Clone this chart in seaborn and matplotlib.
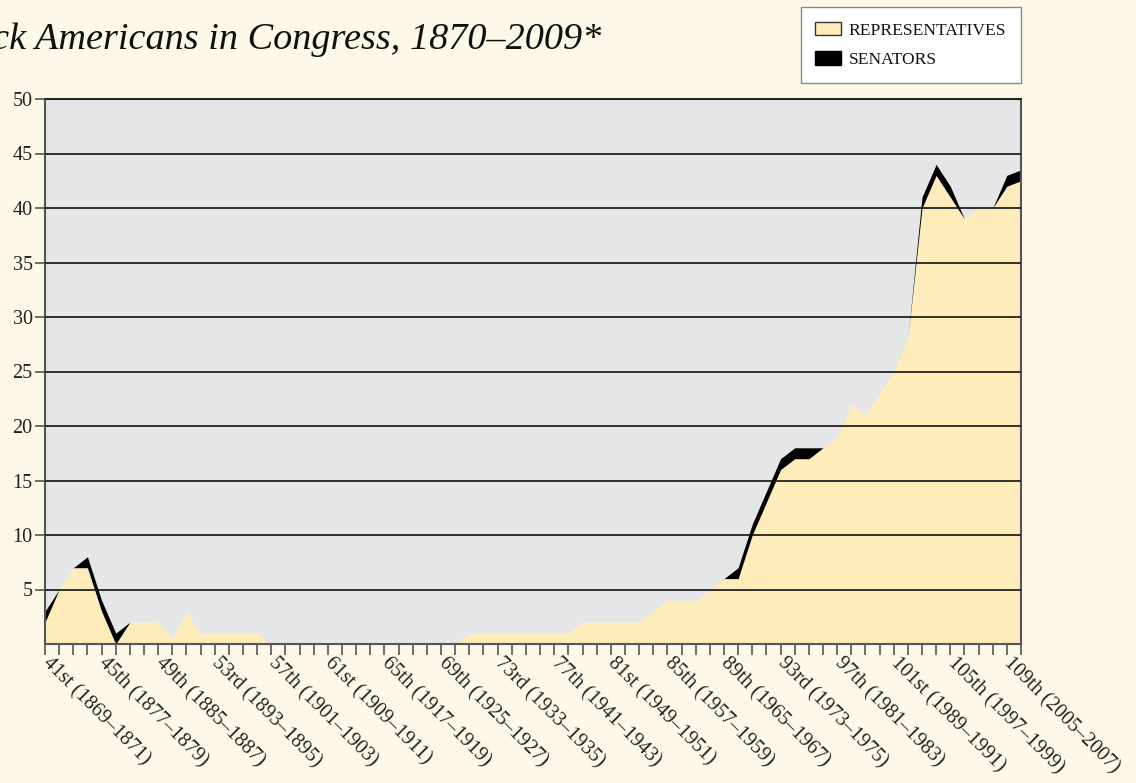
import numpy as np
import pandas as pd
import matplotlib
matplotlib.use("Agg")
import matplotlib.pyplot as plt
import seaborn as sns
from matplotlib.patches import Patch

# --- data ---
congresses = list(range(41, 111))
representatives = [2, 5, 7, 7, 3, 0, 2, 2, 2, 0.5, 3, 1, 1, 1, 1, 1,
                   0, 0, 0, 0, 0, 0, 0, 0, 0, 0, 0, 0, 0, 0,
                   1, 1, 1, 1, 1, 1, 1, 1,
                   2, 2, 2, 2, 2,
                   3, 4, 4, 4, 5, 6, 6, 10, 13, 16, 17, 17, 18, 19, 22, 21,
                   23, 25, 28, 40, 43, 41, 39, 40, 40, 42, 42.5]
senators = [1, 0, 0, 1, 1, 1, 0, 0, 0, 0, 0, 0, 0, 0, 0, 0,
            0, 0, 0, 0, 0, 0, 0, 0, 0, 0, 0, 0, 0, 0,
            0, 0, 0, 0, 0, 0, 0, 0,
            0, 0, 0, 0, 0,
            0, 0, 0, 0, 0, 0, 1, 1, 1, 1, 1, 1, 0, 0, 0, 0,
            0, 0, 0, 1, 1, 1, 0, 0, 0, 1, 1]
label_congresses = list(range(41, 111, 4))
tick_labels = ["41st (1869–1871)", "45th (1877–1879)", "49th (1885–1887)",
               "53rd (1893–1895)", "57th (1901–1903)", "61st (1909–1911)",
               "65th (1917–1919)", "69th (1925–1927)", "73rd (1933–1935)",
               "77th (1941–1943)", "81st (1949–1951)", "85th (1957–1959)",
               "89th (1965–1967)", "93rd (1973–1975)", "97th (1981–1983)",
               "101st (1989–1991)", "105th (1997–1999)", "109th (2005–2007)"]
y_ticks = [5, 10, 15, 20, 25, 30, 35, 40, 45, 50]

df = pd.DataFrame({"Congress": congresses,
                   "Representatives": representatives,
                   "Senators": senators})

# --- style ---
sns.set_theme(style="white")
plt.rcParams["font.family"] = ["Liberation Serif", "DejaVu Serif"]

bg = "#FDF8E7"
panel = "#E5E6E8"
yellow = "#FFECBB"
axis_gray = "#555555"

fig = plt.figure(figsize=(11.36, 7.83), dpi=100, facecolor=bg)
ax = fig.add_axes([45 / 1136, 1 - 644 / 783, 976 / 1136, 545 / 783])
ax.set_facecolor(panel)

ax.stackplot(df["Congress"], df["Representatives"], df["Senators"],
             colors=[yellow, "black"], linewidth=0)

ax.set_xlim(41, 110)
ax.set_ylim(0, 50)

# gridlines drawn over the areas
ax.set_axisbelow(False)
ax.yaxis.grid(True, color="#111111", linewidth=1.2)
ax.xaxis.grid(False)

ax.set_yticks(y_ticks)
ax.set_yticklabels([str(v) for v in y_ticks], fontsize=14.5, color="#222222")
ax.tick_params(axis="y", direction="out", length=7, width=1.2,
               color=axis_gray, pad=2, left=True)

ax.set_xticks(congresses, minor=True)
ax.set_xticks(label_congresses)
ax.set_xticklabels(tick_labels, fontsize=14.6, color="#222222",
                   rotation=-45, ha="left", va="center", rotation_mode="anchor")
ax.tick_params(axis="x", which="both", direction="out", length=8, width=1.2,
               color=axis_gray, bottom=True, pad=4)

for side in ["left", "bottom", "right", "top"]:
    ax.spines[side].set_visible(True)
    ax.spines[side].set_color(axis_gray)
    ax.spines[side].set_linewidth(1.5)
ax.spines["top"].set_color("#333333")

ax.set_xlabel("")
ax.set_ylabel("")

# title (cut at the left edge like the reference)
fig.text(601 / 1136, 1 - 49 / 783, "Black Americans in Congress, 1870–2009*",
         ha="right", va="baseline", fontsize=27.5, fontstyle="italic",
         color="#111111")

# legend
handles = [Patch(facecolor=yellow, edgecolor="#333333", linewidth=1.0,
                 label="REPRESENTATIVES"),
           Patch(facecolor="black", edgecolor="black", linewidth=1.0,
                 label="SENATORS")]
leg = fig.legend(handles=handles, loc="upper right",
                 bbox_to_anchor=(1021 / 1136, 1 - 7 / 783),
                 fontsize=12.6, frameon=True, fancybox=False,
                 borderpad=0.85, labelspacing=0.72, handlelength=1.45,
                 handleheight=0.8, handletextpad=0.45, borderaxespad=0)
leg.get_frame().set_facecolor("white")
leg.get_frame().set_edgecolor("#888888")
leg.get_frame().set_linewidth(1.0)
leg.get_frame().set_alpha(1)
for t in leg.get_texts():
    t.set_color("#111111")

fig.savefig("out.png", dpi=100, facecolor=bg)
